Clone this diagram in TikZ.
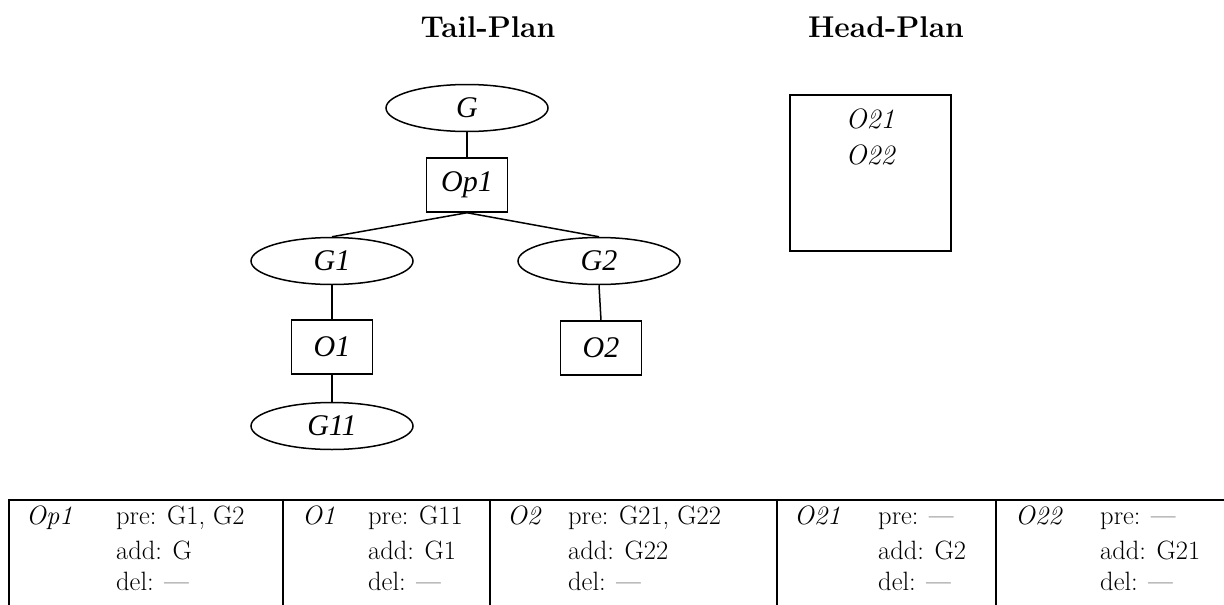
\documentclass[tikz,border=0pt]{standalone}
\usepackage{fontspec}
\newfontfamily\treefont{Liberation Serif}
\usetikzlibrary{shapes.geometric}
\tikzset{
  x=1pt, y=-1pt,
  lw/.style={line width=1.5pt},
  goal/.style={ellipse, draw, lw, minimum width=162pt, minimum height=47pt, inner sep=0pt,
    font=\treefont\itshape\fontsize{30}{32}\selectfont},
  opbox/.style={rectangle, draw, lw, minimum width=81pt, minimum height=54pt, inner sep=0pt,
    font=\treefont\itshape\fontsize{30}{32}\selectfont},
  title/.style={anchor=base, inner sep=0pt, font=\bfseries\fontsize{30}{32}\selectfont},
  hp/.style={anchor=base, inner sep=0pt, font=\itshape\fontsize{28}{30}\selectfont},
  cell/.style={anchor=base west, inner sep=0pt, font=\fontsize{26.5}{28}\selectfont},
  celllab/.style={anchor=base west, inner sep=0pt, font=\itshape\fontsize{26.5}{28}\selectfont},
  edge/.style={lw}
}
\begin{document}
\begin{tikzpicture}
\useasboundingbox (0,0) rectangle (1224,605);
\fill[white] (0,0) rectangle (1224,605);

% titles
\node[title] (tailt) at (488,37) {Tail-Plan};
\node[title] (headt) at (886,37) {Head-Plan};

% tree
\node[goal] (G) at (467,108) {G};
\node[opbox] (Op1) at (467,185) {Op1};
\node[goal] (G1) at (332,261) {G1};
\node[goal] (G2) at (599,261) {G2};
\node[opbox] (O1) at (332,347) {O1};
\node[opbox] (O2) at (601,348) {O2};
\node[goal] (G11) at (332,426) {G11};

\draw[edge] (G.south) -- (Op1.north);
\draw[edge] (Op1.south) -- (G1.north);
\draw[edge] (Op1.south) -- (G2.north);
\draw[edge] (G1.south) -- (O1.north);
\draw[edge] (G2.south) -- (O2.north);
\draw[edge] (O1.south) -- (G11.north);

% head plan box
\node[draw, lw, rectangle, minimum width=161pt, minimum height=156pt, inner sep=0pt] (hbox) at (870.5,173) {};
\node[hp] (h1) at (870,128) {O21};
\node[hp] (h2) at (870,164) {O22};

% table
\coordinate (tl) at (9,500);
\coordinate (tr) at (1224,500);
\coordinate (bl) at (9,605);
\draw[lw] (tr) -- (tl) -- (bl);
\foreach \xx/\nm in {283/a,490/b,777/c,996/d}{
  \coordinate (s\nm t) at (\xx,500);
  \coordinate (s\nm b) at (\xx,605);
  \draw[lw] (s\nm t) -- (s\nm b);
}

\node[celllab] (l1) at (26,524) {Op1};
\node[cell] (p1) at (116,524) {pre: G1, G2};
\node[cell] (a1) at (116,559) {add: G};
\node[cell] (d1) at (116,590) {del: ---};

\node[celllab] (l2) at (302,524) {O1};
\node[cell] (p2) at (368,524) {pre: G11};
\node[cell] (a2) at (368,559) {add: G1};
\node[cell] (d2) at (368,590) {del: ---};

\node[celllab] (l3) at (507,524) {O2};
\node[cell] (p3) at (568,524) {pre: G21, G22};
\node[cell] (a3) at (568,559) {add: G22};
\node[cell] (d3) at (568,590) {del: ---};

\node[celllab] (l4) at (794,524) {O21};
\node[cell] (p4) at (878,524) {pre: ---};
\node[cell] (a4) at (878,559) {add: G2};
\node[cell] (d4) at (878,590) {del: ---};

\node[celllab] (l5) at (1015,524) {O22};
\node[cell] (p5) at (1100,524) {pre: ---};
\node[cell] (a5) at (1100,559) {add: G21};
\node[cell] (d5) at (1100,590) {del: ---};
\end{tikzpicture}
\end{document}
